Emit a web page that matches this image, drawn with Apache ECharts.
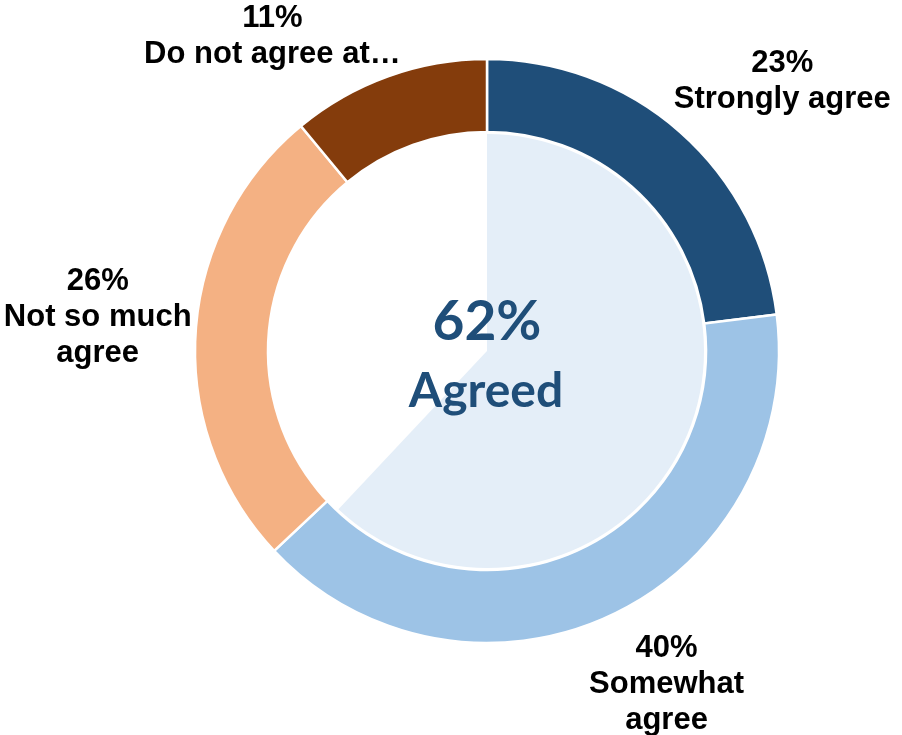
<!DOCTYPE html>
<html>
<head>
<meta charset="utf-8">
<script src="https://cdn.jsdelivr.net/npm/echarts@6/dist/echarts.min.js"></script>
<style>
  html, body { margin: 0; padding: 0; background: #ffffff; }
  #chart { width: 902px; height: 735px; }
</style>
</head>
<body>
<div id="chart"></div>
<script>
// Survey answers, in clockwise order starting from 12 o'clock
const categories = ['Strongly agree', 'Somewhat\nagree', 'Not so much\nagree', 'Do not agree at\u2026'];
const values = [23, 40, 26, 11];
const colors = ['#1F4E79', '#9DC3E6', '#F4B183', '#843C0C'];

// Share of respondents who agreed (strongly + somewhat), shown in the hole
const agreedValue = 62;
const agreedLabel = 'Agreed';

const CX = 487, CY = 351;
const R_OUT = 292, R_IN = 219, R_FILL = 217;
// labels sit just outside the ring, touching a circle of this radius
const LABEL_R = 296;
// small per-label nudges (px) so the text clears the ring nicely
const labelNudge = [[-9, -12], [-24, 12], [0, 2], [14, 0]];

const total = values.reduce((a, b) => a + b, 0);
const midAngles = [];
let acc = 0;
values.forEach(v => {
  midAngles.push((acc + v / 2) / total * Math.PI * 2);
  acc += v;
});
const clamp1 = v => Math.max(-1, Math.min(1, v));

const chart = echarts.init(document.getElementById('chart'), null, { renderer: 'canvas' });

chart.setOption({
  backgroundColor: '#ffffff',
  animation: false,
  series: [
    {
      // light wedge behind the hole covering the agreed share
      type: 'pie',
      center: [CX, CY],
      radius: [0, R_FILL],
      startAngle: 90,
      silent: true,
      z: 1,
      label: { show: false },
      labelLine: { show: false },
      data: [
        { value: agreedValue, itemStyle: { color: '#E4EEF8' } },
        { value: total - agreedValue, itemStyle: { color: 'rgba(0,0,0,0)' } }
      ]
    },
    {
      type: 'pie',
      center: [CX, CY],
      radius: [R_IN, R_OUT],
      startAngle: 90,
      z: 2,
      itemStyle: { borderColor: '#ffffff', borderWidth: 2.5 },
      label: {
        show: true,
        position: 'outside',
        formatter: p => p.value + '%\n' + p.name,
        fontFamily: '"Liberation Sans", Arial, sans-serif',
        fontWeight: 'bold',
        fontSize: 31,
        lineHeight: 36,
        color: '#000000',
        align: 'center',
        overflow: 'none'
      },
      labelLine: { show: false },
      labelLayout: params => {
        const i = params.dataIndex;
        const a = midAngles[i];
        const s = Math.sin(a), c = Math.cos(a);
        const r = params.labelRect;
        const ax = CX + LABEL_R * s, ay = CY - LABEL_R * c;
        return {
          x: ax + clamp1(5 * s) * r.width / 2 + labelNudge[i][0],
          y: ay - clamp1(5 * c) * r.height / 2 + labelNudge[i][1],
          align: 'center',
          verticalAlign: 'middle'
        };
      },
      data: categories.map((name, i) => ({
        name: name,
        value: values[i],
        itemStyle: { color: colors[i] }
      }))
    }
  ],
  graphic: [
    {
      type: 'text',
      z: 100,
      x: CX,
      y: CY - 29,
      style: {
        text: agreedValue + '%',
        fill: '#1F4E79',
        font: 'bold 55px Lato, "Open Sans", sans-serif',
        textAlign: 'center',
        textVerticalAlign: 'middle'
      }
    },
    {
      type: 'text',
      z: 100,
      x: CX - 1,
      y: CY + 41,
      style: {
        text: agreedLabel,
        fill: '#1F4E79',
        font: 'bold 48px Lato, "Open Sans", sans-serif',
        textAlign: 'center',
        textVerticalAlign: 'middle'
      }
    }
  ]
});
</script>
</body>
</html>
